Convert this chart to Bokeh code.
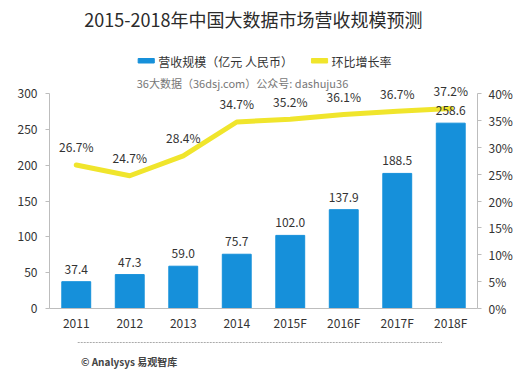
from bokeh.plotting import figure
from bokeh.layouts import column
from bokeh.models import (ColumnDataSource, Range1d, LinearAxis, Label,
                          FixedTicker, CustomJSTickFormatter)
from bokeh.embed import file_html
from bokeh.resources import INLINE
from bokeh.core.properties import value

years = ["2011", "2012", "2013", "2014", "2015F", "2016F", "2017F", "2018F"]
revenue = [37.4, 47.3, 59.0, 75.7, 102.0, 137.9, 188.5, 258.6]
growth = [26.7, 24.7, 28.4, 34.7, 35.2, 36.1, 36.7, 37.2]
left_ticks = [0, 50, 100, 150, 200, 250, 300]
right_ticks = [0, 5, 10, 15, 20, 25, 30, 35, 40]
legend_labels = ["营收规模（亿元 人民币）", "环比增长率"]

FONT = "Noto Sans CJK SC"
BLUE = "#1690DA"
YELLOW = "#F0E52C"
TXT = "#333333"
AX = "#BDBDBD"

W = 531
TOP_H, MAIN_H, BOT_H = 70, 270, 45
ML, MR, MT, MB = 49, 54, 5, 32
fw, fh = W - ML - MR, MAIN_H - MT - MB
y_end = fh * 300 / 215      # 0..300 spans 215 px
p_end = fh * 40 / 215


def blank(h):
    f = figure(width=W, height=h, x_range=Range1d(0, W), y_range=Range1d(h, 0),
               output_backend="svg", toolbar_location=None, title=None,
               min_border=0, min_border_left=0, min_border_right=0,
               min_border_top=0, min_border_bottom=0)
    f.axis.visible = False
    f.grid.visible = False
    f.outline_line_color = None
    f.background_fill_color = "white"
    f.border_fill_color = "white"
    return f

# ---------------- main chart ----------------
p = figure(x_range=years, y_range=Range1d(0, y_end), width=W, height=MAIN_H,
           output_backend="svg", toolbar_location=None, title=None,
           min_border_left=ML, min_border_right=MR, min_border_top=MT,
           min_border_bottom=MB)
p.extra_y_ranges = {"pct": Range1d(0, p_end)}
p.x_range.range_padding = 0
p.outline_line_color = None
p.grid.grid_line_color = None
p.background_fill_color = "white"
p.border_fill_color = "white"

src = ColumnDataSource(dict(x=years, rev=revenue, g=growth,
                            rl=["%.1f" % v for v in revenue],
                            gl=["%.1f%%" % v for v in growth]))

p.vbar(x="x", top="rev", width=0.54, source=src, color=BLUE)
p.line(x="x", y="g", source=src, y_range_name="pct", line_width=5,
       color=YELLOW, line_join="round", line_cap="round")

p.text(x="x", y="rev", text="rl", source=src, text_align="center",
       text_baseline="bottom", y_offset=-8, text_font=value(FONT),
       text_font_size="12px", text_color=TXT)
p.text(x="x", y="g", text="gl", source=src, y_range_name="pct",
       text_align="center", text_baseline="middle", y_offset=-18,
       text_font=value(FONT), text_font_size="12px", text_color=TXT)

la = p.yaxis[0]
la.ticker = FixedTicker(ticks=left_ticks)
la.bounds = (0, 300)
ra = LinearAxis(y_range_name="pct", ticker=FixedTicker(ticks=right_ticks),
                bounds=(0, 40))
ra.formatter = CustomJSTickFormatter(code="return tick.toFixed(0) + '%';")
p.add_layout(ra, "right")
for ax in (la, ra):
    ax.axis_line_color = AX
    ax.major_tick_line_color = AX
    ax.major_tick_out = 4
    ax.major_tick_in = 0
    ax.minor_tick_line_color = None
    ax.major_label_text_font = FONT
    ax.major_label_text_font_size = "12px"
    ax.major_label_text_color = TXT
la.major_label_standoff = 8
ra.major_label_standoff = 7
xa = p.xaxis[0]
xa.axis_line_color = AX
xa.major_tick_line_color = None
xa.major_tick_out = 0
xa.major_tick_in = 0
xa.minor_tick_line_color = None
xa.major_label_standoff = 5
xa.major_label_text_font = FONT
xa.major_label_text_font_size = "12px"
xa.major_label_text_color = TXT

# watermark subtitle inside the frame (ref y = 82)
p.add_layout(Label(x=(242 - ML) / (fw / 8), y=(308 - 82) * 300 / 215,
                   text="36大数据（36dsj.com）公众号: dashuju36",
                   text_align="center", text_baseline="middle", text_font=FONT,
                   text_font_size="11px", text_color="#777777"))

# ---------------- header ----------------
top = blank(TOP_H)
top.add_layout(Label(x=253, y=18, text="2015-2018年中国大数据市场营收规模预测",
                     text_align="center", text_baseline="middle", text_font=FONT,
                     text_font_size="18px", text_color="#2b2b2b"))
for col, lab, lx in ((BLUE, legend_labels[0], 110), (YELLOW, legend_labels[1], 325)):
    top.quad(left=lx, right=lx + 20, top=58, bottom=62.5, color=col)
    top.add_layout(Label(x=lx + 25, y=60.5, text=lab, text_align="left",
                         text_baseline="middle", text_font=FONT,
                         text_font_size="12px", text_color=TXT))

# ---------------- footer ----------------
bot = blank(BOT_H)
bot.segment(x0=[35], y0=[2], x1=[487], y1=[2], line_color="#AAAAAA",
            line_width=1, line_dash="2 1")
bot.add_layout(Label(x=39, y=361 - 340, text="© Analysys 易观智库",
                     text_align="left", text_baseline="middle", text_font=FONT,
                     text_font_size="10px", text_font_style="bold",
                     text_color="#444444"))

layout = column(top, p, bot, spacing=0)
open("out.html", "w").write(file_html(layout, INLINE))
